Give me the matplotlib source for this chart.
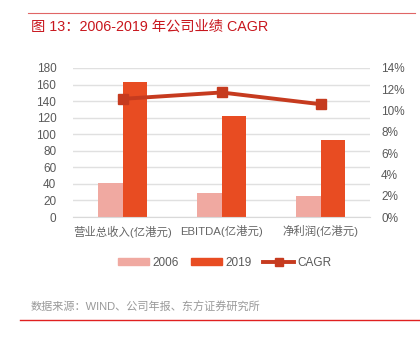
import numpy as np
import matplotlib.pyplot as plt
from matplotlib.lines import Line2D
from matplotlib.patches import Patch

plt.rcParams['font.family'] = ['Liberation Sans', 'Noto Sans CJK SC', 'DejaVu Sans']

categories = ['营业总收入(亿港元)', 'EBITDA(亿港元)', '净利润(亿港元)']
values_2006 = [41, 29, 25]
values_2019 = [163, 122, 93]
cagr = [11.1, 11.7, 10.6]

c2006 = '#f0a9a1'
c2019 = '#e84c22'
cline = '#c63b1f'
gray = '#595959'

fig = plt.figure(figsize=(4.2, 3.39), dpi=100)
ax = fig.add_axes([73 / 420, 1 - 217 / 339, 297 / 420, 149 / 339])
ax2 = ax.twinx()

x = np.arange(len(categories))
w = 0.245
ax.bar(x - w / 2, values_2006, w, color=c2006, zorder=2)
ax.bar(x + w / 2, values_2019, w, color=c2019, zorder=2)
ax.set_xlim(-0.5, 2.5)
ax.set_ylim(0, 180)
ax.set_yticks(range(0, 181, 20))
ax.grid(axis='y', color='#e0e0e0', linewidth=1, zorder=0)
ax.set_axisbelow(True)
ax.set_xticks(x)
ax.set_xticklabels(categories)

ax2.plot(x, cagr, color=cline, linewidth=2.8, marker='s', markersize=7.5, zorder=5)
ax2.set_ylim(0, 14)
ax2.set_yticks(range(0, 15, 2))
ax2.set_yticklabels([f'{v}%' for v in range(0, 15, 2)])

for a in (ax, ax2):
    for s in a.spines.values():
        s.set_visible(False)
    a.tick_params(length=0, labelsize=8.5, labelcolor=gray)
ax.tick_params(axis='y', pad=12)
ax2.tick_params(axis='y', pad=8)
ax.tick_params(axis='x', pad=6, labelsize=8.2, labelcolor='#666666')
ax.spines['bottom'].set_visible(True)
ax.spines['bottom'].set_color('#d9d9d9')

handles = [Patch(color=c2006, label='2006'), Patch(color=c2019, label='2019'),
           Line2D([], [], color=cline, linewidth=2.8, marker='s', markersize=6, label='CAGR')]
fig.legend(handles=handles, loc='center', bbox_to_anchor=(225 / 420, 1 - 263 / 339), ncol=3,
           frameon=False, fontsize=8.5, handlelength=2.6, handleheight=0.5, columnspacing=1.0,
           handletextpad=0.3, labelcolor=gray)

fig.add_artist(Line2D([28 / 420, 415 / 420], [1 - 13 / 339] * 2, color='#e06666', linewidth=0.8))
fig.text(31 / 420, 1 - 27 / 339, '图 13：2006-2019 年公司业绩 CAGR', color='#c8161d', fontsize=10.3,
         va='center', ha='left')
fig.text(31 / 420, 1 - 307 / 339, '数据来源：WIND、公司年报、东方证券研究所', color='#999999', fontsize=8,
         va='center', ha='left')
fig.add_artist(Line2D([20 / 420, 1], [1 - 320 / 339] * 2, color='#e02020', linewidth=1))

fig.savefig('out.png', dpi=100)
